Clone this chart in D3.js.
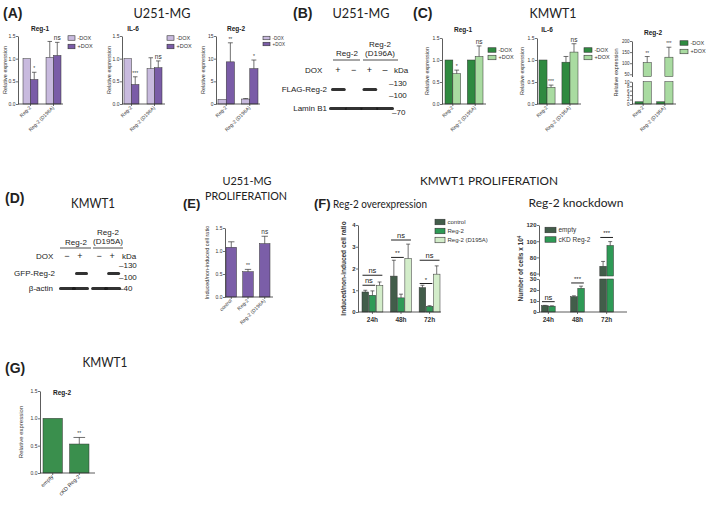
<!DOCTYPE html>
<html><head><meta charset="utf-8">
<script src="https://cdn.jsdelivr.net/npm/d3@7"></script>
<style>body{margin:0;background:#fff}svg{display:block}</style>
</head><body>
<svg id="c" width="709" height="506"></svg>
<script>
// ================= DATA =================
const doxSeries = ["-DOX", "+DOX"];
const aGroups = ["Reg-2", "Reg-2 (D196A)"];
const cGroups = ["Reg-2", "Reg-2 (D195A)"];
const relTicks = [0, 0.5, 1.0, 1.5];

// Panel A (U251-MG)
const aReg1Minus = [1.0, 1.03], aReg1MinusErr = [0, 0.35];
const aReg1Plus = [0.54, 1.07], aReg1PlusErr = [0.16, 0.29];
const aReg1Sig = ["*", "ns"];
const aIl6Minus = [1.0, 0.78], aIl6MinusErr = [0, 0.24];
const aIl6Plus = [0.43, 0.80], aIl6PlusErr = [0.17, 0.15];
const aIl6Sig = ["***", "ns"];
const aReg2Minus = [1.0, 1.1], aReg2MinusErr = [0, 0.1];
const aReg2Plus = [9.3, 7.8], aReg2PlusErr = [4.2, 1.9];
const aReg2Sig = ["**", "*"];
const aReg2Ticks = [0, 5, 10, 15];

// Panel C (KMWT1)
const cReg1Minus = [1.0, 1.0], cReg1MinusErr = [0, 0];
const cReg1Plus = [0.69, 1.08], cReg1PlusErr = [0.08, 0.24];
const cReg1Sig = ["*", "ns"];
const cIl6Minus = [1.0, 0.95], cIl6MinusErr = [0, 0.13];
const cIl6Plus = [0.38, 1.18], cIl6PlusErr = [0.05, 0.19];
const cIl6Sig = ["***", "ns"];
const cReg2Minus = [1.0, 1.0], cReg2MinusErr = [0, 0];
const cReg2Plus = [103, 127], cReg2PlusErr = [27, 45];
const cReg2Sig = ["**", "***"];
const cReg2LowTicks = [0, 2, 4, 6, 8, 10];
const cReg2HighTicks = [50, 100, 150, 200];

// Panel B blot (U251-MG)
const bLanes = ["+", "\u2212", "+", "\u2013"];
const bFlag = [1, 0, 1, 0];
const bLamin = [1, 1, 1, 1];
const bMarkers = ["130", "100", "70"];

// Panel D blot (KMWT1)
const dLanes = ["\u2212", "+", "\u2212", "+"];
const dGfp = [0, 1, 0, 1];
const dActin = [1, 1, 1, 1];
const dMarkers = ["130", "100", "40"];

// Panel E (U251-MG proliferation)
const eGroups = ["control", "Reg-2", "Reg-2 (D196A)"];
const eValues = [1.08, 0.55, 1.16];
const eErrors = [0.12, 0.05, 0.16];
const eSig = ["", "**", "ns"];

// Panel F left (Reg-2 overexpression)
const fTimes = ["24h", "48h", "72h"];
const fSeries = ["control", "Reg-2", "Reg-2 (D195A)"];
const fControl = [0.92, 1.65, 1.12], fControlErr = [0.08, 0.73, 0.11];
const fReg2 = [0.77, 0.65, 0.26], fReg2Err = [0.20, 0.17, 0.03];
const fD195A = [1.23, 2.46, 1.74], fD195AErr = [0.15, 0.66, 0.38];
const fTicks = [0, 1, 2, 3, 4];
// [group, seriesA, seriesB, level, label]
const fSigLines = [
  [0, 0, 1, 1.23, "ns"], [0, 0, 2, 1.69, "ns"],
  [1, 0, 1, 2.51, "**"], [1, 0, 2, 3.31, "ns"],
  [2, 0, 1, 1.31, "*"], [2, 0, 2, 2.38, "ns"]
];

// Panel F right (Reg-2 knockdown)
const kSeries = ["empty", "cKD Reg-2"];
const kEmpty = [5.7, 13.9, 69], kEmptyErr = [0.3, 0.8, 6];
const kCkd = [5.3, 21.5, 94.7], kCkdErr = [0.3, 2.0, 4.8];
const kLowTicks = [0, 10, 20, 30];
const kHighTicks = [60, 80, 100, 120];
const kSigLines = [[0, 0, 1, 9.4, "ns"], [1, 0, 1, 26.4, "***"], [2, 0, 1, 104.6, "***"]];

// Panel G (KMWT1 knockdown expression)
const gGroups = ["empty", "cKD Reg-2"];
const gValues = [1.0, 0.53];
const gErrors = [0, 0.12];
const gSig = ["", "**"];

// ================= STYLE =================
const C = {
  pLight: "#c8bade", pDark: "#7a5ca7", ePurple: "#7b5ea8",
  gDark: "#2f8a40", gLight: "#a9dba1",
  fCtrl: "#425d4a", fReg2: "#2e9a56", fMut: "#d3edca",
  gGreen: "#3a8f4d"
};
const SANS = "'Liberation Sans', Arial, sans-serif";
const HEAD = "Lato, 'Open Sans', sans-serif";

const svg = d3.select("#c");
svg.append("rect").attr("width", 709).attr("height", 506).attr("fill", "#fff");
const defs = svg.append("defs");
defs.append("filter").attr("id", "blur").attr("x", "-20%").attr("y", "-100%")
  .attr("width", "140%").attr("height", "300%")
  .append("feGaussianBlur").attr("stdDeviation", 0.7);

function text(x, y, s, o = {}) {
  const t = svg.append("text").attr("x", x).attr("y", y).text(s)
    .attr("font-family", o.font || SANS).attr("font-size", o.size || 8)
    .attr("font-weight", o.weight || "normal").attr("fill", o.fill || "#222")
    .attr("text-anchor", o.anchor || "start");
  if (o.len) t.attr("textLength", o.len).attr("lengthAdjust", "spacingAndGlyphs");
  return t;
}

// ================= GENERIC BAR CHART =================
function barChart(cfg) {
  const g = svg.append("g");
  const fs = cfg.fs || 5;
  const fw = cfg.fw || "normal";
  let yLow, yHigh = null, lowMax;
  if (cfg.broken) {
    yLow = d3.scaleLinear().domain(cfg.broken.lowDomain).range(cfg.broken.lowRange);
    yHigh = d3.scaleLinear().domain(cfg.broken.highDomain).range(cfg.broken.highRange);
    lowMax = cfg.broken.lowDomain[1];
  } else {
    yLow = d3.scaleLinear().domain(cfg.domain).range([cfg.bottom, cfg.top]);
    lowMax = Infinity;
  }
  const y = v => (yHigh && v > lowMax) ? yHigh(v) : yLow(v);
  const xg = d3.scaleBand().domain(cfg.groups).range(cfg.bandRange)
    .paddingInner(cfg.padInner).paddingOuter(0);
  const xs = d3.scaleBand().domain(d3.range(cfg.series.length))
    .range([0, xg.bandwidth()]).paddingInner(cfg.padSeries || 0);
  const bottom = yLow.range()[0];

  cfg.series.forEach((s, j) => {
    cfg.groups.forEach((grp, i) => {
      const v = s.values[i], e = s.errs[i];
      const x = xg(grp) + xs(j), w = xs.bandwidth();
      if (yHigh && v > lowMax) {
        g.append("rect").attr("x", x).attr("y", yLow(lowMax)).attr("width", w)
          .attr("height", bottom - yLow(lowMax)).attr("fill", s.color)
          .attr("stroke", "#333").attr("stroke-width", 0.5);
        const hb = yHigh.range()[0];
        g.append("rect").attr("x", x).attr("y", yHigh(v)).attr("width", w)
          .attr("height", hb - yHigh(v)).attr("fill", s.color)
          .attr("stroke", "#333").attr("stroke-width", 0.5);
      } else {
        g.append("rect").attr("x", x).attr("y", y(v)).attr("width", w)
          .attr("height", bottom - y(v)).attr("fill", s.color)
          .attr("stroke", "#333").attr("stroke-width", 0.5);
      }
      if (e > 0) {
        const cx = x + w / 2, cw = w * 0.3;
        g.append("line").attr("x1", cx).attr("x2", cx).attr("y1", y(v)).attr("y2", y(v + e))
          .attr("stroke", "#333").attr("stroke-width", 0.7);
        g.append("line").attr("x1", cx - cw).attr("x2", cx + cw).attr("y1", y(v + e)).attr("y2", y(v + e))
          .attr("stroke", "#333").attr("stroke-width", 0.7);
      }
      if (s.sig && s.sig[i]) {
        const top = y(v + e);
        g.append("text").attr("x", x + w / 2).attr("y", top - 2)
          .attr("text-anchor", "middle").attr("font-family", SANS)
          .attr("font-size", s.sig[i] === "ns" ? fs + 1.5 : fs).attr("fill", "#333").text(s.sig[i]);
      }
    });
  });

  function yAxis(scale, ticks) {
    const ax = d3.axisLeft(scale).tickValues(ticks).tickSize(2).tickSizeOuter(0)
      .tickFormat(cfg.fmt ? d3.format(cfg.fmt) : (d => d));
    const a = g.append("g").attr("transform", `translate(${cfg.axisX},0)`).call(ax);
    a.select(".domain").attr("stroke", "#333").attr("stroke-width", 0.8);
    a.selectAll(".tick line").attr("stroke", "#333").attr("stroke-width", 0.7);
    a.selectAll(".tick text").attr("font-family", SANS).attr("font-size", fs)
      .attr("font-weight", fw).attr("fill", "#333").attr("x", -2.5);
    return a;
  }
  if (cfg.broken) {
    yAxis(yLow, cfg.broken.lowTicks);
    yAxis(yHigh, cfg.broken.highTicks);
  } else {
    yAxis(yLow, cfg.ticks);
  }

  g.append("line").attr("x1", cfg.axisX).attr("x2", cfg.axisEnd).attr("y1", bottom).attr("y2", bottom)
    .attr("stroke", "#333").attr("stroke-width", 0.8);
  cfg.groups.forEach(grp => {
    const cx = xg(grp) + xg.bandwidth() / 2;
    g.append("line").attr("x1", cx).attr("x2", cx).attr("y1", bottom).attr("y2", bottom + 2)
      .attr("stroke", "#333").attr("stroke-width", 0.7);
    if (cfg.rotate) {
      g.append("text").attr("transform", `translate(${cx + 1},${bottom + 4}) rotate(-45)`)
        .attr("text-anchor", "end").attr("font-family", SANS).attr("font-size", cfg.xfs || fs)
        .attr("font-weight", fw).attr("fill", "#333").text(grp);
    } else {
      g.append("text").attr("x", cx).attr("y", bottom + fs + 3.5)
        .attr("text-anchor", "middle").attr("font-family", SANS).attr("font-size", cfg.xfs || fs)
        .attr("font-weight", "bold").attr("fill", "#333").text(grp);
    }
  });

  if (cfg.title) {
    g.append("text").attr("x", cfg.title[1]).attr("y", cfg.title[2]).attr("text-anchor", "middle")
      .attr("font-family", SANS).attr("font-size", cfg.titleSize || 6.5).attr("font-weight", "bold")
      .attr("fill", "#222").text(cfg.title[0]);
  }
  if (cfg.ylabel) {
    const mid = (bottom + (cfg.top !== undefined ? cfg.top : yHigh.range()[1])) / 2;
    const t = g.append("text").attr("transform", `translate(${cfg.ylabel[1]},${mid}) rotate(-90)`)
      .attr("text-anchor", "middle").attr("font-family", SANS).attr("font-size", cfg.ylfs || 5.5)
      .attr("font-weight", cfg.ylw || "normal").attr("fill", "#333");
    if (cfg.ylabelSup) {
      t.append("tspan").text(cfg.ylabel[0]);
      t.append("tspan").attr("dy", -2.5).attr("font-size", (cfg.ylfs || fs) * 0.7).text(cfg.ylabelSup);
    } else t.text(cfg.ylabel[0]);
  }
  if (cfg.sigLines) {
    cfg.sigLines.forEach(([gi, a, b, lvl, lab]) => {
      const grp = cfg.groups[gi];
      const x1 = xg(grp) + xs(a) + 0.5, x2 = xg(grp) + xs(b) + xs.bandwidth() - 0.5;
      const yy = y(lvl);
      g.append("line").attr("x1", x1).attr("x2", x2).attr("y1", yy).attr("y2", yy)
        .attr("stroke", "#222").attr("stroke-width", 1);
      g.append("text").attr("x", (x1 + x2) / 2).attr("y", yy - 2).attr("text-anchor", "middle")
        .attr("font-family", SANS).attr("font-size", lab === "ns" ? 7.5 : 6).attr("fill", "#222").text(lab);
    });
  }
  return g;
}

function legend(x, y, items, colors, o = {}) {
  const sw = o.sw || 7, sh = o.sh || 4.5, dy = o.dy || 8, fs = o.fs || 5.5;
  items.forEach((it, i) => {
    svg.append("rect").attr("x", x).attr("y", y + i * dy - sh / 2).attr("width", sw).attr("height", sh)
      .attr("fill", colors[i]).attr("stroke", "#333").attr("stroke-width", 0.6);
    svg.append("text").attr("x", x + sw + 2.5).attr("y", y + i * dy + fs * 0.36)
      .attr("font-family", SANS).attr("font-size", fs).attr("fill", "#333").text(it);
  });
}

function dox(minus, minusErr, plus, plusErr, sig, cMinus, cPlus) {
  return [
    { values: minus, errs: minusErr, color: cMinus },
    { values: plus, errs: plusErr, color: cPlus, sig: sig }
  ];
}

// ================= HEADINGS =================
text(3, 18, "(A)", { size: 14, weight: "bold", font: SANS });
text(162, 18, "U251-MG", { size: 13, font: HEAD, anchor: "middle", len: 57 });
text(293, 18, "(B)", { size: 14, weight: "bold", font: SANS });
text(361, 18, "U251-MG", { size: 13, font: HEAD, anchor: "middle", len: 57 });
text(413, 18, "(C)", { size: 14, weight: "bold", font: SANS });
text(553, 18, "KMWT1", { size: 13, font: HEAD, anchor: "middle", len: 47 });

text(5, 203, "(D)", { size: 14, weight: "bold", font: SANS });
text(93, 208, "KMWT1", { size: 13, font: HEAD, anchor: "middle", len: 44 });
text(247, 185, "U251-MG", { size: 12, font: HEAD, anchor: "middle", len: 49 });
text(246, 200, "PROLIFERATION", { size: 12, font: HEAD, anchor: "middle", len: 82 });
text(183, 208, "(E)", { size: 13, weight: "bold", font: SANS });
text(489, 185, "KMWT1 PROLIFERATION", { size: 12, font: HEAD, anchor: "middle", len: 138 });
text(314, 208, "(F)", { size: 13, weight: "bold", font: SANS });
text(333, 208, "Reg-2 overexpression", { size: 12, font: HEAD, len: 94 });
text(576, 207, "Reg-2 knockdown", { size: 12, font: HEAD, anchor: "middle", len: 95 });
text(5, 373, "(G)", { size: 14, weight: "bold", font: SANS });
text(105, 367, "KMWT1", { size: 13, font: HEAD, anchor: "middle", len: 45 });

// ================= PANEL A =================
barChart({ axisX: 18, axisEnd: 63, top: 36, bottom: 104, domain: [0, 1.5], ticks: relTicks, fmt: ".1f",
  bandRange: [23, 61], padInner: 0.35, groups: aGroups, rotate: true,
  series: dox(aReg1Minus, aReg1MinusErr, aReg1Plus, aReg1PlusErr, aReg1Sig, C.pLight, C.pDark),
  title: ["Reg-1", 40, 31], ylabel: ["Relative expression", 7] });
legend(68, 38, doxSeries, [C.pLight, C.pDark], { dy: 8.5 });
barChart({ axisX: 122, axisEnd: 165, top: 36, bottom: 104, domain: [0, 1.5], ticks: relTicks, fmt: ".1f",
  bandRange: [124, 162], padInner: 0.35, groups: aGroups, rotate: true,
  series: dox(aIl6Minus, aIl6MinusErr, aIl6Plus, aIl6PlusErr, aIl6Sig, C.pLight, C.pDark),
  title: ["IL-6", 133, 31], ylabel: ["Relative expression", 111] });
legend(167, 38, doxSeries, [C.pLight, C.pDark], { dy: 8.5 });
barChart({ axisX: 216, axisEnd: 260, top: 36, bottom: 104, domain: [0, 15], ticks: aReg2Ticks, fmt: "d",
  bandRange: [218, 258], padInner: 0.3, groups: aGroups, rotate: true,
  series: dox(aReg2Minus, aReg2MinusErr, aReg2Plus, aReg2PlusErr, aReg2Sig, C.pLight, C.pDark),
  title: ["Reg-2", 236, 31], ylabel: ["Relative expression", 205] });
legend(263, 38, doxSeries, [C.pLight, C.pDark], { dy: 6, sw: 7, sh: 3.5, fs: 4.5 });

// ================= PANEL C =================
barChart({ axisX: 442, axisEnd: 486, top: 38, bottom: 104, domain: [0, 1.5], ticks: relTicks, fmt: ".1f",
  bandRange: [445, 483], padInner: 0.3, groups: cGroups, rotate: true,
  series: dox(cReg1Minus, cReg1MinusErr, cReg1Plus, cReg1PlusErr, cReg1Sig, C.gDark, C.gLight),
  title: ["Reg-1", 463, 32], ylabel: ["Relative expression", 429] });
legend(488, 50, doxSeries, [C.gDark, C.gLight], { dy: 7.5, sw: 8 });
barChart({ axisX: 537, axisEnd: 581, top: 38, bottom: 104, domain: [0, 1.5], ticks: relTicks, fmt: ".1f",
  bandRange: [539, 578], padInner: 0.3, groups: cGroups, rotate: true,
  series: dox(cIl6Minus, cIl6MinusErr, cIl6Plus, cIl6PlusErr, cIl6Sig, C.gDark, C.gLight),
  title: ["IL-6", 547, 32], ylabel: ["Relative expression", 524] });
legend(584, 50, doxSeries, [C.gDark, C.gLight], { dy: 7.5, sw: 8 });
barChart({ axisX: 632, axisEnd: 676, groups: cGroups, rotate: true, fmt: "d",
  broken: { lowDomain: [0, 10], lowRange: [104, 81.7], highDomain: [40, 200], highRange: [76.5, 41],
    lowTicks: cReg2LowTicks, highTicks: cReg2HighTicks },
  bandRange: [635, 673], padInner: 0.25, fs: 4.5, xfs: 5,
  series: dox(cReg2Minus, cReg2MinusErr, cReg2Plus, cReg2PlusErr, cReg2Sig, C.gDark, C.gLight),
  title: ["Reg-2", 653, 35], ylabel: ["Relative expression", 618] });
legend(680, 43, doxSeries, [C.gDark, C.gLight], { dy: 8.5, sw: 8 });

// ================= BLOTS =================
function band(x, yc, w, h, k) {
  svg.append("rect").attr("x", x).attr("y", yc - h / 2).attr("width", w).attr("height", h)
    .attr("rx", h / 2).attr("fill", "#1a1a1a").attr("opacity", 0.9 * k).attr("filter", "url(#blur)");
}
// Panel B
{
  const lane = d3.scaleBand().domain(d3.range(bLanes.length)).range([330, 393]);
  const f = 8;
  text(347, 56, "Reg-2", { size: f, anchor: "middle" });
  text(380, 47, "Reg-2", { size: f, anchor: "middle" });
  text(380, 56, "(D196A)", { size: f, anchor: "middle" });
  svg.append("line").attr("x1", 333).attr("x2", 360).attr("y1", 60).attr("y2", 60).attr("stroke", "#222").attr("stroke-width", 0.8);
  svg.append("line").attr("x1", 363).attr("x2", 398).attr("y1", 60).attr("y2", 60).attr("stroke", "#222").attr("stroke-width", 0.8);
  text(305, 73, "DOX", { size: f });
  bLanes.forEach((s, i) => text(lane(i) + lane.bandwidth() / 2, 73, s, { size: 9, anchor: "middle" }));
  text(394, 73, "kDa", { size: f });
  text(327, 92, "FLAG-Reg-2", { size: f, anchor: "end" });
  bFlag.forEach((k, i) => { if (k) band(lane(i) + 1, 89.5, lane.bandwidth() - 1, 3, k); });
  text(327, 111, "Lamin B1", { size: f, anchor: "end" });
  bLamin.forEach((k, i) => band(lane(i) - 1, 108.5, lane.bandwidth() + 2, 3, k));
  const my = [86, 98, 115];
  bMarkers.forEach((m, i) => text(i === 2 ? 392 : 389, my[i], "\u2013" + m, { size: f }));
}
// Panel D
{
  const grp = d3.scaleBand().domain([0, 1]).range([60, 121]).paddingInner(0.1);
  const lane = i => grp(Math.floor(i / 2)) + (i % 2 === 0 ? 7 : 20);
  const f = 8;
  text(76, 245, "Reg-2", { size: f, anchor: "middle" });
  text(108, 235, "Reg-2", { size: f, anchor: "middle" });
  text(108, 244, "(D195A)", { size: f, anchor: "middle" });
  svg.append("line").attr("x1", 60).attr("x2", 91).attr("y1", 248).attr("y2", 248).attr("stroke", "#222").attr("stroke-width", 0.8);
  svg.append("line").attr("x1", 93).attr("x2", 123).attr("y1", 248).attr("y2", 248).attr("stroke", "#222").attr("stroke-width", 0.8);
  text(36, 259, "DOX", { size: f });
  dLanes.forEach((s, i) => text(lane(i), 259, s, { size: 9, anchor: "middle" }));
  text(122, 259, "kDa", { size: f });
  text(55, 276, "GFP-Reg-2", { size: f, anchor: "end" });
  dGfp.forEach((k, i) => { if (k) band(lane(i) - 5, 273.5, 13, 3, k); });
  text(53, 291, "\u03b2-actin", { size: f, anchor: "end" });
  dActin.forEach((k, i) => band(lane(i) - 8, 288.5, 17, 3, k));
  const my = [268, 280, 291];
  dMarkers.forEach((m, i) => text(119, my[i], "\u2013" + m, { size: f }));
}

// ================= PANEL E =================
barChart({ axisX: 225, axisEnd: 273, top: 228, bottom: 297, domain: [0, 1.5], ticks: relTicks, fmt: ".1f",
  bandRange: [226, 270], padInner: 0.37, groups: eGroups, rotate: true,
  series: [{ values: eValues, errs: eErrors, color: C.ePurple, sig: eSig }],
  ylabel: ["Induced/non-induced cell ratio", 209] });

// ================= PANEL F =================
barChart({ axisX: 358, axisEnd: 441, top: 225, bottom: 312, domain: [0, 4], ticks: fTicks, fmt: "d",
  bandRange: [362, 440], padInner: 0.27, padSeries: 0.08, groups: fTimes, fs: 6, fw: "bold", xfs: 6.5,
  series: [
    { values: fControl, errs: fControlErr, color: C.fCtrl },
    { values: fReg2, errs: fReg2Err, color: C.fReg2 },
    { values: fD195A, errs: fD195AErr, color: C.fMut }
  ],
  sigLines: fSigLines,
  ylabel: ["Induced/non-induced cell ratio", 346], ylfs: 6.5, ylw: "bold" });
legend(435, 222, fSeries, [C.fCtrl, C.fReg2, C.fMut], { dy: 9, sw: 10, sh: 5.5, fs: 6 });

barChart({ axisX: 539, axisEnd: 627, groups: fTimes, fmt: "d", fs: 6, fw: "bold", xfs: 6.5,
  broken: { lowDomain: [0, 30], lowRange: [312, 279], highDomain: [57, 120], highRange: [276, 225],
    lowTicks: kLowTicks, highTicks: kHighTicks },
  bandRange: [541.5, 613.5], padInner: 0.53, padSeries: 0.08,
  series: [
    { values: kEmpty, errs: kEmptyErr, color: C.fCtrl },
    { values: kCkd, errs: kCkdErr, color: C.fReg2 }
  ],
  sigLines: kSigLines,
  ylabel: ["Number of cells x 10", 523], ylabelSup: "4", ylfs: 6.5, ylw: "bold" });
legend(545, 230, kSeries, [C.fCtrl, C.fReg2], { dy: 9.5, sw: 11, sh: 5.5, fs: 6.5 });

// ================= PANEL G =================
barChart({ axisX: 40, axisEnd: 95, top: 391, bottom: 473, domain: [0, 1.5], ticks: relTicks, fmt: ".1f",
  bandRange: [43, 89], padInner: 0.27, groups: gGroups, rotate: true, fs: 5, xfs: 5.5,
  series: [{ values: gValues, errs: gErrors, color: C.gGreen, sig: gSig }],
  title: ["Reg-2", 62, 395], ylabel: ["Relative expression", 23], ylfs: 6 });
</script>
</body></html>
